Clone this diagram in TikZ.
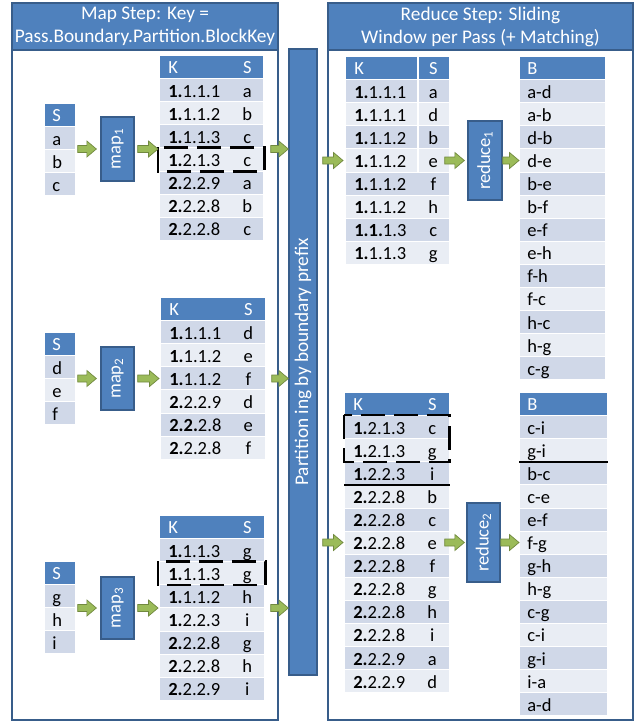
\documentclass[tikz,border=0pt]{standalone}
\usepackage{fontspec}
\setmainfont{Carlito}
\usepackage{graphicx}
\usepackage{tikz}
\usetikzlibrary{calc}

\definecolor{hdblue}{HTML}{4F81BD}
\definecolor{edgeblue}{HTML}{385D8A}
\definecolor{rowdark}{HTML}{D0D8E8}
\definecolor{rowlight}{HTML}{E9EDF4}
\definecolor{flowgreen}{HTML}{9BBB59}
\definecolor{flowedge}{HTML}{71893F}

% key/value row: key left, S centred in its own column
\newcommand\kv[2]{\hspace*{9pt}\makebox[69pt][l]{#1}\makebox[20pt]{#2}}

\tikzset{
  cell/.style={anchor=north west, inner sep=0pt, minimum height=23.1pt,
    text height=14pt, text depth=0pt, text width=#1, align=left,
    draw=white, line width=0.7pt},
  hdcell/.style={cell=#1, fill=hdblue, text=white},
  op/.style={draw=edgeblue, line width=1.3pt, fill=hdblue, text=white, inner sep=0pt},
  panel/.style={draw=edgeblue, line width=1.6pt},
  title/.style={text=white, align=center, font=\fontsize{19.3}{23}\selectfont},
  flow/.style={draw=flowedge, fill=flowgreen, line width=0.7pt, line join=miter,
    to path={let \p1=(\tikztostart), \p2=(\tikztotarget) in
      (\x1,{\y1+3.5pt}) -- ({\x2-9.5pt},{\y1+3.5pt}) -- ({\x2-9.5pt},{\y1+8pt})
      -- (\x2,\y1) -- ({\x2-9.5pt},{\y1-8pt}) -- ({\x2-9.5pt},{\y1-3.5pt})
      -- (\x1,{\y1-3.5pt}) -- cycle}},
  hilite/.style={draw=black, line width=2.6pt, dash pattern=on 24pt off 9pt},
  cut/.style={draw=black, line width=2.4pt}
}

\begin{document}
\begin{tikzpicture}[x=1pt, y=-1pt, font=\fontsize{18.5}{20}\selectfont]
\useasboundingbox (0,0) rectangle (643,723);
\fill[white] (0,0) rectangle (643,723);

% two panels
\fill[hdblue] (12,3) rectangle (278,50);
\draw[panel] (12,50) -- (278,50);
\draw[panel] (12,3) rectangle (278,720);
\node[title] (maptitle) at (145,26.5) {Map Step: Key =\\Pass.Boundary.Partition.BlockKey};
\fill[hdblue] (328,3) rectangle (633,50);
\draw[panel] (328,50) -- (633,50);
\draw[panel] (328,3) rectangle (633,720);
\node[title] (redtitle) at (480.5,26.5) {Reduce Step: Sliding\\Window per Pass (+ Matching)};

% partitioner between the steps
\node[op, minimum width=28pt, minimum height=626pt] (part) at (303,362)
  {\rotatebox{90}{\fontsize{19.3}{20}\selectfont Partition ing by boundary prefix}};

% ---- map 1
\node[hdcell=31pt] (s1-0) at (44,103) {\hspace*{8pt}S};
\foreach \sk [count=\i] in {a,b,c} {
  \edef\rowcol{\ifodd\i rowdark\else rowlight\fi}
  \node[cell=31pt, fill=\rowcol] (s1-\i) at (44,103+23.1*\i) {\hspace*{8pt}\sk};
}
\node[op, minimum width=33pt, minimum height=64pt] (m1) at (117.5,149) {\rotatebox{90}{map\textsubscript{1}}};
\node[hdcell=104pt] (k1-0) at (159,55) {\kv{K}{S}};
\foreach \bk/\rk/\sk [count=\i] in {1./1.1.1/a, 1./1.1.2/b, 1./1.1.3/c, 1./2.1.3/c,
    2./2.2.9/a, 2./2.2.8/b, 2./2.2.8/c} {
  \edef\rowcol{\ifodd\i rowdark\else rowlight\fi}
  \node[cell=104pt, fill=\rowcol] (k1-\i) at (159,55+23.1*\i) {\kv{\textbf{\bk}\rk}{\sk}};
}

% ---- map 2
\node[hdcell=31pt] (s2-0) at (44,332) {\hspace*{8pt}S};
\foreach \sk [count=\i] in {d,e,f} {
  \edef\rowcol{\ifodd\i rowdark\else rowlight\fi}
  \node[cell=31pt, fill=\rowcol] (s2-\i) at (44,332+23.1*\i) {\hspace*{8pt}\sk};
}
\node[op, minimum width=33pt, minimum height=63pt] (m2) at (117.5,378.5) {\rotatebox{90}{map\textsubscript{2}}};
\node[hdcell=105pt] (k2-0) at (160,297) {\kv{K}{S}};
\foreach \bk/\rk/\sk [count=\i] in {1./1.1.1/d, 1./1.1.2/e, 1./1.1.2/f, 2./2.2.9/d,
    2.2./2.8/e, 2./2.2.8/f} {
  \edef\rowcol{\ifodd\i rowdark\else rowlight\fi}
  \node[cell=105pt, fill=\rowcol] (k2-\i) at (160,297+23.1*\i) {\kv{\textbf{\bk}\rk}{\sk}};
}

% ---- map 3
\node[hdcell=31pt] (s3-0) at (44,561) {\hspace*{8pt}S};
\foreach \sk [count=\i] in {g,h,i} {
  \edef\rowcol{\ifodd\i rowdark\else rowlight\fi}
  \node[cell=31pt, fill=\rowcol] (s3-\i) at (44,561+23.1*\i) {\hspace*{8pt}\sk};
}
\node[op, minimum width=33pt, minimum height=62pt] (m3) at (117.5,608) {\rotatebox{90}{map\textsubscript{3}}};
\node[hdcell=105pt] (k3-0) at (159,515) {\kv{K}{S}};
\foreach \bk/\rk/\sk [count=\i] in {1./1.1.3/g, 1./1.1.3/g, 1./1.1.2/h, 1./2.2.3/i,
    2./2.2.8/g, 2./2.2.8/h, 2./2.2.9/i} {
  \edef\rowcol{\ifodd\i rowdark\else rowlight\fi}
  \node[cell=105pt, fill=\rowcol] (k3-\i) at (159,515+23.1*\i) {\kv{\textbf{\bk}\rk}{\sk}};
}

% ---- reduce 1
\node[hdcell=104pt] (rk1-0) at (345,56) {\kv{K}{S}};
\foreach \bk/\rk/\sk [count=\i] in {1./1.1.1/a, 1./1.1.1/d, 1./1.1.2/b, 1./1.1.2/e,
    1./1.1.2/f, 1./1.1.2/h, 1.1./1.3/c, 1./1.1.3/g} {
  \edef\rowcol{\ifodd\i rowdark\else rowlight\fi}
  \node[cell=104pt, fill=\rowcol] (rk1-\i) at (345,56+23.1*\i) {\kv{\textbf{\bk}\rk}{\sk}};
}
\draw[white, line width=1.5pt] ($(rk1-0.north west)+(73,0)$) -- ($(rk1-4.south west)+(73,0)$);
\node[op, minimum width=34pt, minimum height=79pt] (r1) at (485,160.5) {\rotatebox{90}{reduce\textsubscript{1}}};
\node[hdcell=86pt] (b1-0) at (519,56) {\hspace*{8pt}B};
\foreach \pr [count=\i] in {a-d, a-b, d-b, d-e, b-e, b-f, e-f, e-h, f-h, f-c, h-c, h-g, c-g} {
  \edef\rowcol{\ifodd\i rowdark\else rowlight\fi}
  \node[cell=86pt, fill=\rowcol] (b1-\i) at (519,56+23.1*\i) {\hspace*{8pt}\pr};
}

% ---- reduce 2
\node[hdcell=105pt] (rk2-0) at (344,392) {\kv{K}{S}};
\foreach \bk/\rk/\sk [count=\i] in {1./2.1.3/c, 1./2.1.3/g, 1./2.2.3/i, 2./2.2.8/b,
    2./2.2.8/c, 2./2.2.8/e, 2./2.2.8/f, 2./2.2.8/g, 2./2.2.8/h, 2./2.2.8/i,
    2./2.2.9/a, 2./2.2.9/d} {
  \edef\rowcol{\ifodd\i rowdark\else rowlight\fi}
  \node[cell=105pt, fill=\rowcol] (rk2-\i) at (344,392+23.1*\i) {\kv{\textbf{\bk}\rk}{\sk}};
}
\node[op, minimum width=33pt, minimum height=79pt] (r2) at (483.5,542.5) {\rotatebox{90}{reduce\textsubscript{2}}};
\node[hdcell=88pt] (b2-0) at (519,392) {\hspace*{8pt}B};
\foreach \pr [count=\i] in {c-i, g-i, b-c, c-e, e-f, f-g, g-h, h-g, c-g, c-i, g-i, i-a, a-d} {
  \edef\rowcol{\ifodd\i rowdark\else rowlight\fi}
  \node[cell=88pt, fill=\rowcol] (b2-\i) at (519,392+23.1*\i) {\hspace*{8pt}\pr};
}

% boundary windows
\draw[hilite] ($(k1-4.north west)+(-1,0)$) rectangle ($(k1-4.south east)+(1,0)$);
\draw[hilite] ($(k3-2.north west)+(-1,0)$) rectangle ($(k3-2.south east)+(1,0)$);
\draw[hilite] (rk2-1.north west) rectangle (rk2-2.south east);
\draw[cut] (rk2-3.south west) -- (rk2-3.south east);
\draw[cut] (b2-2.south west) -- (b2-2.south east);

% data flow
\draw[flow] ($(m1 -| s1-1.east)+(2,0)$) to ($(m1.west)+(-4,0)$);
\draw[flow] ($(m1.east)+(3,0)$) to ($(m1 -| k1-1.west)+(-1,0)$);
\draw[flow] ($(m1 -| k1-1.east)+(7,0)$) to (m1 -| part.west);
\draw[flow] ($(m2 -| s2-1.east)+(2,0)$) to ($(m2.west)+(-4,0)$);
\draw[flow] ($(m2.east)+(3,0)$) to ($(m2 -| k2-1.west)+(-1,0)$);
\draw[flow] ($(m2 -| k2-1.east)+(6,0)$) to (m2 -| part.west);
\draw[flow] ($(m3 -| s3-1.east)+(2,0)$) to ($(m3.west)+(-4,0)$);
\draw[flow] ($(m3.east)+(3,0)$) to ($(m3 -| k3-1.west)+(-1,0)$);
\draw[flow] ($(m3 -| k3-1.east)+(6,0)$) to (m3 -| part.west);
\draw[flow] ($(r1 -| part.east)+(5,0)$) to ($(r1 -| rk1-1.west)+(-2,0)$);
\draw[flow] ($(r1 -| rk1-1.east)+(-5,0)$) to ($(r1.west)+(-3,0)$);
\draw[flow] (r1.east) to (r1 -| b1-1.west);
\draw[flow] ($(r2 -| part.east)+(5,0)$) to ($(r2 -| rk2-1.west)+(-1,0)$);
\draw[flow] ($(r2 -| rk2-1.east)+(-5,0)$) to ($(r2.west)+(-2,0)$);
\draw[flow] (r2.east) to (r2 -| b2-1.west);
\end{tikzpicture}
\end{document}
